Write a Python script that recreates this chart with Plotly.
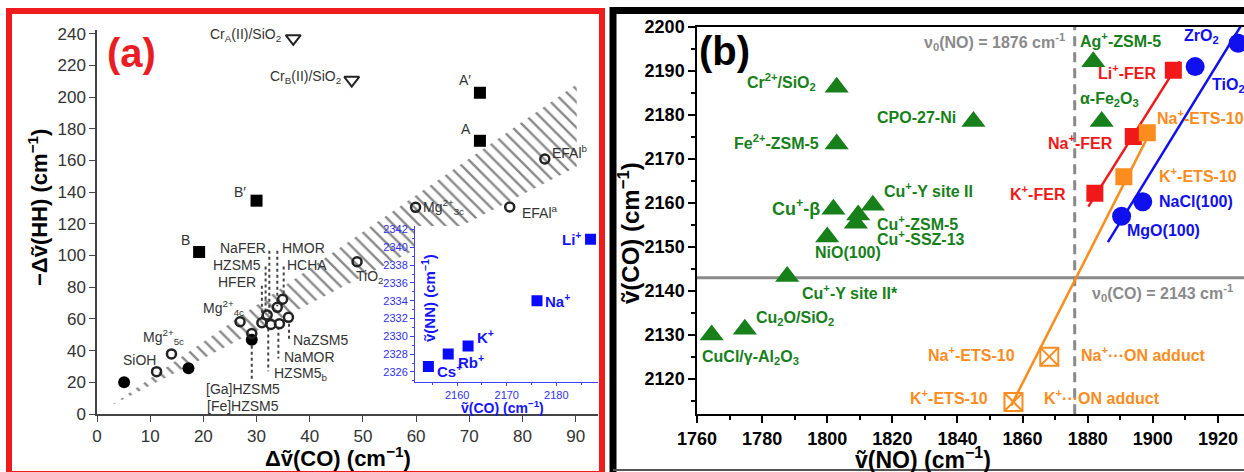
import plotly.graph_objects as go

W, H = 1244, 472
FONT = "Liberation Sans, Arial, sans-serif"

# ================= panel (a) data =================
cr_names = ["Cr<sub>A</sub>(II)/SiO<sub>2</sub>", "Cr<sub>B</sub>(II)/SiO<sub>2</sub>"]
cr_dco = [36.9, 47.9]
cr_dhh = [237.0, 210.7]

sq_names = ["A′", "A", "B′", "B"]
sq_dco = [72.0, 72.0, 30.0, 19.2]
sq_dhh = [202.7, 172.4, 134.6, 102.2]

fc_dco = [5.1, 17.2, 29.1]
fc_dhh = [20.0, 28.8, 46.8]

oc_names = ["SiOH", "Mg<sup>2+</sup><sub>5c</sub>", "Mg<sup>2+</sup><sub>4c</sub>", "TiO<sub>2</sub>",
            "Mg<sup>2+</sup><sub>3c</sub>", "EFAl<sup>b</sup>", "EFAl<sup>a</sup>"]
oc_dco = [11.2, 14.0, 26.9, 48.9, 59.9, 84.2, 77.6]
oc_dhh = [26.7, 37.9, 58.2, 96.1, 130.4, 160.9, 130.6]

zeo_dco = [29.1, 31.0, 32.0, 32.7, 33.9, 34.9, 34.3, 36.0]
zeo_dhh = [50.8, 57.6, 62.5, 56.5, 67.3, 72.4, 57.0, 61.0]

zl_names = ["NaFER", "HMOR", "HZSM5", "HCHA", "HFER", "[Ga]HZSM5", "[Fe]HZSM5",
            "HZSM5<sub>b</sub>", "NaMOR", "NaZSM5"]
zl_dco = [32.1, 34.4, 31.2, 35.3, 30.3, 27.4, 27.4, 32.9, 34.8, 36.5]
zl_dhh = [104.7, 104.7, 94.0, 94.0, 83.3, 15.8, 5.0, 25.2, 36.0, 46.7]

lead_dco = [32.4, 33.9, 31.7, 35.1, 31.0, 29.1, 32.2, 34.1, 36.1]
lead_top = [103.0, 103.0, 93.0, 93.0, 81.0, 43.0, 54.0, 55.0, 57.0]
lead_bot = [61.0, 68.0, 63.0, 74.0, 60.0, 21.0, 27.0, 35.0, 46.0]

band_dco = [2.5, 90.2, 90.2, 2.5]
band_dhh = [5.0, 208.0, 156.0, 5.0]

# inset
ins_names = ["Li<sup>+</sup>", "Na<sup>+</sup>", "K<sup>+</sup>", "Rb<sup>+</sup>", "Cs<sup>+</sup>"]
ins_co = [2186.9, 2176.1, 2162.2, 2158.2, 2154.2]
ins_nn = [2340.9, 2334.0, 2328.9, 2328.0, 2326.6]

# ================= panel (b) data =================
nu0_NO = 1876
nu0_CO = 2143

green_names = ["Cr<sup>2+</sup>/SiO<sub>2</sub>", "Fe<sup>2+</sup>-ZSM-5", "CPO-27-Ni", "Ag<sup>+</sup>-ZSM-5",
               "α-Fe<sub>2</sub>O<sub>3</sub>", "Cu<sup>+</sup>-β", "NiO(100)", "Cu<sup>+</sup>-ZSM-5",
               "Cu<sup>+</sup>-SSZ-13", "Cu<sup>+</sup>-Y site II", "Cu<sup>+</sup>-Y site II*",
               "Cu<sub>2</sub>O/SiO<sub>2</sub>", "CuCl/γ-Al<sub>2</sub>O<sub>3</sub>"]
green_no = [1802.9, 1802.9, 1844.9, 1881.7, 1884.3, 1801.9, 1800.0, 1809.5, 1808.8, 1814.0, 1787.7, 1774.7, 1764.5]
green_co = [2186.3, 2173.4, 2178.5, 2192.1, 2178.5, 2158.6, 2152.3, 2157.3, 2155.4, 2159.5, 2143.3, 2131.3, 2130.0]

red_names = ["K<sup>+</sup>-FER", "Na<sup>+</sup>-FER", "Li<sup>+</sup>-FER"]
red_no = [1882.2, 1894.0, 1906.3]
red_co = [2162.2, 2175.1, 2190.2]

ora_names = ["K<sup>+</sup>-ETS-10", "Na<sup>+</sup>-ETS-10"]
ora_no = [1891.1, 1898.3]
ora_co = [2166.0, 2176.0]

add_names_l = ["K<sup>+</sup>-ETS-10", "Na<sup>+</sup>-ETS-10"]
add_names_r = ["K<sup>+</sup>···ON adduct", "Na<sup>+</sup>···ON adduct"]
add_no = [1857.2, 1868.2]
add_co = [2114.8, 2125.1]

blue_names = ["MgO(100)", "NaCl(100)", "ZrO<sub>2</sub>", "TiO<sub>2</sub>"]
blue_no = [1890.4, 1896.9, 1913.0, 1926.2]
blue_co = [2157.0, 2160.3, 2191.0, 2196.3]

red_fit_no = [1880.2, 1908.3]
red_fit_co = [2159.2, 2192.2]
ora_fit_no = [1856.5, 1900.0]
ora_fit_co = [2114.0, 2177.3]
blue_fit_no = [1886.2, 1931.0]
blue_fit_co = [2151.1, 2205.0]

# axis ranges
A_X = [0, 94.2]
A_Y = [0, 242.3]
B_X = [1760, 1928.0]
B_Y = [2112.0, 2200.0]
I_X = [2151.5, 2188.4]
I_Y = [2324.9, 2342.4]

GREEN = "#17801a"
RED = "#f01818"
ORANGE = "#fb8c1e"
BLUE = "#1010ee"
IBLUE = "#1414ff"
GRAY = "#8a8a8a"
DARK = "#333333"

fig = go.Figure()

# ---------- panel (a) traces ----------
fig.add_trace(go.Scatter(x=band_dco, y=band_dhh, mode="lines", fill="toself",
                         line=dict(width=0, color="rgba(0,0,0,0)"),
                         fillcolor="rgba(0,0,0,0)",
                         fillpattern=dict(shape="\\", size=9, solidity=0.26,
                                          fgcolor="#111111", bgcolor="rgba(0,0,0,0)"),
                         hoverinfo="skip", xaxis="x", yaxis="y"))

lx, ly = [], []
for x, t, b in zip(lead_dco, lead_top, lead_bot):
    lx += [x, x, None]
    ly += [t, b, None]
fig.add_trace(go.Scatter(x=lx, y=ly, mode="lines", line=dict(color="#444", width=2, dash="dot"),
                         xaxis="x", yaxis="y"))

fig.add_trace(go.Scatter(x=cr_dco, y=cr_dhh, mode="markers",
                         marker=dict(symbol="triangle-down-open", size=13, color="#222",
                                     line=dict(width=2, color="#222")), xaxis="x", yaxis="y"))
fig.add_trace(go.Scatter(x=sq_dco, y=sq_dhh, mode="markers",
                         marker=dict(symbol="square", size=12, color="black"), xaxis="x", yaxis="y"))
fig.add_trace(go.Scatter(x=fc_dco, y=fc_dhh, mode="markers",
                         marker=dict(symbol="circle", size=12, color="black"), xaxis="x", yaxis="y"))
fig.add_trace(go.Scatter(x=oc_dco + zeo_dco, y=oc_dhh + zeo_dhh, mode="markers",
                         marker=dict(symbol="circle-open", size=9, color="#222",
                                     line=dict(width=2.5, color="#222")), xaxis="x", yaxis="y"))

# inset
fig.add_trace(go.Scatter(x=ins_co, y=ins_nn, mode="markers",
                         marker=dict(symbol="square", size=11, color="#0a0aff"), xaxis="x3", yaxis="y3"))

# ---------- panel (b) traces ----------
fig.add_trace(go.Scatter(x=[nu0_NO, nu0_NO], y=B_Y, mode="lines",
                         line=dict(color=GRAY, width=3, dash="10px,6px"), xaxis="x2", yaxis="y2"))
fig.add_trace(go.Scatter(x=B_X, y=[nu0_CO, nu0_CO], mode="lines",
                         line=dict(color=GRAY, width=3), xaxis="x2", yaxis="y2"))
fig.add_trace(go.Scatter(x=red_fit_no, y=red_fit_co, mode="lines",
                         line=dict(color=RED, width=2.5), xaxis="x2", yaxis="y2"))
fig.add_trace(go.Scatter(x=ora_fit_no, y=ora_fit_co, mode="lines",
                         line=dict(color=ORANGE, width=2.5), xaxis="x2", yaxis="y2"))
fig.add_trace(go.Scatter(x=blue_fit_no, y=blue_fit_co, mode="lines",
                         line=dict(color=BLUE, width=2.5), xaxis="x2", yaxis="y2"))
fig.add_trace(go.Scatter(x=green_no, y=green_co, mode="markers",
                         marker=dict(symbol="triangle-up", size=21, color=GREEN), xaxis="x2", yaxis="y2"))
fig.add_trace(go.Scatter(x=red_no, y=red_co, mode="markers",
                         marker=dict(symbol="square", size=17, color=RED), xaxis="x2", yaxis="y2"))
fig.add_trace(go.Scatter(x=ora_no, y=ora_co, mode="markers",
                         marker=dict(symbol="square", size=17, color=ORANGE), xaxis="x2", yaxis="y2"))
fig.add_trace(go.Scatter(x=add_no, y=add_co, mode="markers",
                         marker=dict(symbol="square-x-open", size=18, color=ORANGE,
                                     line=dict(width=2, color=ORANGE)), xaxis="x2", yaxis="y2"))
fig.add_trace(go.Scatter(x=blue_no, y=blue_co, mode="markers",
                         marker=dict(symbol="circle", size=19, color=BLUE), xaxis="x2", yaxis="y2"))

# ---------- annotations ----------
ann = []


def lab(text, x, y, xr, yr, dx, dy, anchor, color, size, bold=False):
    ann.append(dict(text=text, x=x, y=y, xref=xr, yref=yr, xshift=dx, yshift=dy,
                    xanchor=anchor, yanchor="middle", showarrow=False,
                    font=dict(family=FONT, size=size, color=color, weight=700 if bold else 400)))


# panel (a) labels
cr_off = [(-10, 3, "right"), (-9, 3, "right")]
for n, x, y, (dx, dy, a) in zip(cr_names, cr_dco, cr_dhh, cr_off):
    lab(n, x, y, "x", "y", dx, dy, a, DARK, 14)
sq_off = [(-15, 13, "center"), (-14, 12, "center"), (-17, 9, "center"), (-14, 12, "center")]
for n, x, y, (dx, dy, a) in zip(sq_names, sq_dco, sq_dhh, sq_off):
    lab(n, x, y, "x", "y", dx, dy, a, DARK, 14)
oc_off = [(-17, 12, "center"), (-8, 17, "center"), (-17, 14, "center"), (13, -15, "center"),
          (5, 0, "left"), (5, 7, "left"), (10, -5, "left")]
for n, x, y, (dx, dy, a) in zip(oc_names, oc_dco, oc_dhh, oc_off):
    lab(n, x, y, "x", "y", dx, dy, a, DARK, 14)
zl_anchor = ["right", "left", "right", "left", "right", "center", "center", "left", "left", "left"]
for n, x, y, a in zip(zl_names, zl_dco, zl_dhh, zl_anchor):
    lab(n, x, y, "x", "y", 0, 0, a, DARK, 14)

# inset labels
ins_off = [(-8, 1, "right"), (6, 0, "left"), (7, 10, "left"), (8, -7, "left"), (7, -4, "left")]
for n, x, y, (dx, dy, a) in zip(ins_names, ins_co, ins_nn, ins_off):
    lab(n, x, y, "x3", "y3", dx, dy, a, IBLUE, 15, True)

# panel (b) labels
g_off = [(-19, 5, "right"), (-16, 2, "right"), (-15, 4, "right"), (-15, 22, "left"), (-24, 22, "left"),
         (-11, 2, "right"), (21, -16, "center"), (17, -8, "left"), (19, -15, "left"), (9, 15, "left"),
         (13, -15, "left"), (9, 11, "left"), (-12, -22, "left")]
for i, (n, x, y, (dx, dy, a)) in enumerate(zip(green_names, green_no, green_co, g_off)):
    lab(n, x, y, "x2", "y2", dx, dy, a, GREEN, 18 if i == 5 else 16, True)
r_off = [(-27, 0, "right"), (-18, -5, "right"), (-14, -2, "right")]
for n, x, y, (dx, dy, a) in zip(red_names, red_no, red_co, r_off):
    lab(n, x, y, "x2", "y2", dx, dy, a, RED, 16, True)
o_off = [(33, 2, "left"), (8, 16, "left")]
for n, x, y, (dx, dy, a) in zip(ora_names, ora_no, ora_co, o_off):
    lab(n, x, y, "x2", "y2", dx, dy, a, ORANGE, 16, True)
al_off = [(-23, 5), (-32, 3)]
ar_off = [(29, 5), (30, 3)]
for nl, nr, x, y, (dxl, dyl), (dxr, dyr) in zip(add_names_l, add_names_r, add_no, add_co, al_off, ar_off):
    lab(nl, x, y, "x2", "y2", dxl, dyl, "right", ORANGE, 16, True)
    lab(nr, x, y, "x2", "y2", dxr, dyr, "left", ORANGE, 16, True)
b_off = [(3, -14, "left"), (14, 0, "left"), (-13, 30, "left"), (-28, -42, "left")]
for n, x, y, (dx, dy, a) in zip(blue_names, blue_no, blue_co, b_off):
    lab(n, x, y, "x2", "y2", dx, dy, a, BLUE, 16, True)

lab("ν<sub>0</sub>(NO) = %d cm<sup>-1</sup>" % nu0_NO, nu0_NO, B_Y[1], "x2", "y2", -8, -15, "right", GRAY, 16, True)
lab("ν<sub>0</sub>(CO) = %d cm<sup>-1</sup>" % nu0_CO, nu0_NO, nu0_CO, "x2", "y2", 15, -15, "left", GRAY, 16, True)


def pann(text, px, py, size, color, bold=True, angle=0):
    ann.append(dict(text=text, x=px / W, y=1 - py / H, xref="paper", yref="paper",
                    xanchor="center", yanchor="middle", showarrow=False, textangle=angle,
                    font=dict(family=FONT, size=size, color=color, weight=700 if bold else 400)))


pann("(a)", 131, 53, 40, "#ea1d25")
pann("(b)", 724, 51, 40, "black")
pann("Δṽ(CO) (cm<sup>−1</sup>)", 338, 457, 22, "black")
pann("−Δṽ(HH) (cm<sup>−1</sup>)", 38, 208, 22, "black", angle=-90)
pann("ṽ(NO) (cm<sup>−1</sup>)", 923, 458, 23, "black")
pann("ṽ(CO) (cm<sup>−1</sup>)", 629, 233, 24, "black", angle=-90)
pann("ṽ(NN) (cm<sup>−1</sup>)", 428, 298, 15, IBLUE, angle=-90)
pann("ṽ(CO) (cm<sup>−1</sup>)", 502, 407, 14, IBLUE)

# ---------- shapes (frames, inset cover) ----------
shapes = [
    dict(type="rect", xref="x3", yref="y3", x0=I_X[0], x1=I_X[1], y0=I_Y[0], y1=I_Y[1],
         fillcolor="white", line=dict(width=0), layer="below"),
    dict(type="rect", xref="paper", yref="paper", x0=9 / W, x1=602 / W, y0=1 - 474 / H, y1=1 - 11 / H,
         line=dict(color="#ee1c1c", width=6), fillcolor="rgba(0,0,0,0)", layer="above"),
    dict(type="line", xref="paper", yref="paper", x0=613 / W, x1=613 / W, y0=0, y1=1 - 7 / H,
         line=dict(color="black", width=7), layer="above"),
    dict(type="line", xref="paper", yref="paper", x0=610 / W, x1=1, y0=1 - 10.5 / H, y1=1 - 10.5 / H,
         line=dict(color="black", width=7), layer="above"),
    dict(type="line", xref="paper", yref="paper", x0=613 / W, x1=1, y0=1 - 470 / H, y1=1 - 470 / H,
         line=dict(color="#555", width=2), layer="above"),
]

tick_a = dict(family=FONT, size=17, color=DARK)
tick_b = dict(family=FONT, size=18, color="black", weight=700)
tick_i = dict(family=FONT, size=11, color="#3030f0")

common = dict(showgrid=False, zeroline=False, automargin=False)

fig.update_layout(
    width=W, height=H, margin=dict(l=0, r=0, t=0, b=0, pad=0, autoexpand=False),
    paper_bgcolor="white", plot_bgcolor="white", showlegend=False,
    xaxis=dict(domain=[97 / W, 598 / W], range=A_X, anchor="y", tick0=0, dtick=10,
               ticks="outside", ticklen=6, tickwidth=1.2, tickcolor="#444",
               showline=True, linecolor="#444", linewidth=1.5, tickfont=tick_a, **common),
    yaxis=dict(domain=[1 - 414 / H, 1 - 30 / H], range=A_Y, anchor="x", tick0=0, dtick=20,
               ticks="outside", ticklen=6, tickwidth=1.2, tickcolor="#444",
               showline=True, linecolor="#444", linewidth=1.5, tickfont=tick_a, **common),
    xaxis2=dict(domain=[697 / W, 1.0], range=B_X, anchor="y2", tick0=1760, dtick=20,
                ticks="outside", ticklen=7, tickwidth=1.5, tickcolor="black",
                minor=dict(dtick=10, ticks="outside", ticklen=4, tickwidth=1.5, tickcolor="black"),
                showline=True, mirror=True, linecolor="black", linewidth=1.5, tickfont=tick_b, **common),
    yaxis2=dict(domain=[1 - 414.3 / H, 1 - 27 / H], range=B_Y, anchor="x2", tick0=2120, dtick=10,
                ticks="outside", ticklen=7, tickwidth=1.5, tickcolor="black",
                minor=dict(dtick=5, ticks="outside", ticklen=4, tickwidth=1.5, tickcolor="black"),
                showline=True, linecolor="black", linewidth=1.5, tickfont=tick_b, **common),
    xaxis3=dict(domain=[415 / W, 598 / W], range=I_X, anchor="y3", tick0=2160, dtick=10,
                ticks="outside", ticklen=3, tickwidth=1, tickcolor="#4040ff",
                minor=dict(dtick=5, ticks="outside", ticklen=2, tickcolor="#4040ff"),
                showline=True, linecolor="#4040ff", linewidth=1, tickfont=tick_i, **common),
    yaxis3=dict(domain=[1 - 381.7 / H, 1 - 226 / H], range=I_Y, anchor="x3", tick0=2326, dtick=2,
                ticks="outside", ticklen=4, tickwidth=1, tickcolor="#4040ff",
                minor=dict(dtick=1, ticks="outside", ticklen=2, tickcolor="#4040ff"),
                showline=True, linecolor="#4040ff", linewidth=1, tickfont=tick_i, **common),
    annotations=ann,
    shapes=shapes,
)

fig.write_html("out.html")
